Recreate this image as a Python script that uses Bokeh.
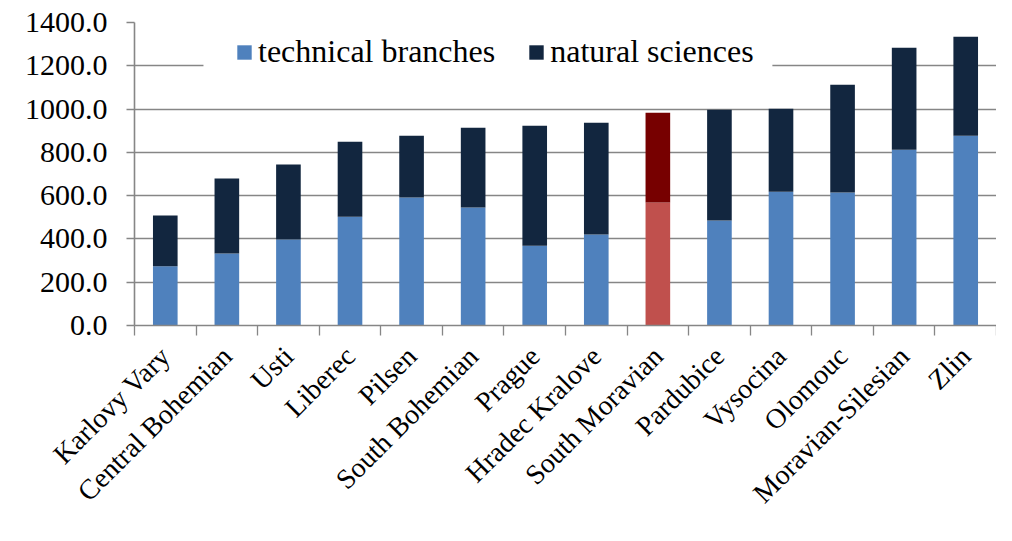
import math
from bokeh.plotting import figure
from bokeh.models import (Range1d, FixedTicker, Legend, LegendItem, ColumnDataSource,
                          NumeralTickFormatter, BoxAnnotation)
from bokeh.transform import stack
from bokeh.embed import file_html
from bokeh.resources import INLINE

regions = ["Karlovy Vary", "Central Bohemian", "Usti", "Liberec", "Pilsen",
           "South Bohemian", "Prague", "Hradec Kralove", "South Moravian",
           "Pardubice", "Vysocina", "Olomouc", "Moravian-Silesian", "Zlin"]
technical = [274, 333, 397, 503, 591, 545, 369, 420, 568, 485, 618, 614, 812, 877]
natural = [234, 346, 347, 346, 286, 369, 554, 517, 415, 512, 383, 498, 471, 457]
y_ticks = [0, 200, 400, 600, 800, 1000, 1200, 1400]
highlight = "South Moravian"

TECH_C, NAT_C = "#4F81BD", "#12263F"
TECH_H, NAT_H = "#C0504D", "#770000"
GRID_C = "#868686"
FONT = "Liberation Serif"

pos = [i + 0.5 for i in range(len(regions))]
src = ColumnDataSource(dict(
    x=pos, technical=technical, natural=natural,
    tc=[TECH_H if r == highlight else TECH_C for r in regions],
    nc=[NAT_H if r == highlight else NAT_C for r in regions],
))

p = figure(width=996, height=525, output_backend="svg", toolbar_location=None,
           x_range=Range1d(0, len(regions)), y_range=Range1d(0, 1400),
           min_border_left=134, min_border_right=0, min_border_top=22,
           min_border_bottom=200)
p.outline_line_color = None
p.background_fill_color = "white"
p.border_fill_color = "white"

r1 = p.vbar(x="x", width=0.4, bottom=0, top=stack("technical"), source=src,
            fill_color="tc", line_color=None)
r2 = p.vbar(x="x", width=0.4, bottom=stack("technical"),
            top=stack("technical", "natural"), source=src,
            fill_color="nc", line_color=None)

# white legend band hiding the gridline behind the legend
p.add_layout(BoxAnnotation(left=1.12, right=10.36, bottom=1130, top=1362,
                           fill_color="white", fill_alpha=1, line_color=None,
                           level="underlay"))

p.xgrid.visible = False
p.ygrid.ticker = FixedTicker(ticks=y_ticks)
p.ygrid.grid_line_color = GRID_C
p.ygrid.grid_line_width = 1.6

ya = p.yaxis[0]
ya.ticker = FixedTicker(ticks=y_ticks)
ya.formatter = NumeralTickFormatter(format="0.0")
ya.axis_line_color = GRID_C
ya.axis_line_width = 1.6
ya.major_tick_line_color = GRID_C
ya.major_tick_line_width = 1.6
ya.major_tick_out = 8
ya.major_tick_in = 0
ya.minor_tick_line_color = None
ya.major_label_text_font = FONT
ya.major_label_text_font_size = "30px"
ya.major_label_text_color = "black"
ya.major_label_standoff = 19

xa = p.xaxis[0]
xa.ticker = FixedTicker(ticks=pos, minor_ticks=list(range(len(regions) + 1)))
xa.major_label_overrides = {p_: r for p_, r in zip(pos, regions)}
xa.axis_line_color = GRID_C
xa.axis_line_width = 1.6
xa.major_tick_line_color = None
xa.major_tick_out = 0
xa.major_tick_in = 0
xa.minor_tick_line_color = GRID_C
xa.minor_tick_line_width = 1.3
xa.minor_tick_out = 10
xa.minor_tick_in = 0
xa.major_label_orientation = math.pi / 4
xa.major_label_text_font = FONT
xa.major_label_text_font_size = "28px"
xa.major_label_text_color = "black"
xa.major_label_standoff = 16

legend = Legend(items=[LegendItem(label="technical branches", renderers=[r1], index=0),
                       LegendItem(label="natural sciences", renderers=[r2], index=0)],
                location=(101, 255), orientation="horizontal",
                padding=0, margin=0, spacing=32, label_standoff=5,
                glyph_width=18, glyph_height=18,
                background_fill_alpha=0, border_line_color=None,
                label_text_font=FONT, label_text_font_size="32px",
                label_text_color="black")
p.add_layout(legend)

open("out.html", "w").write(file_html(p, INLINE))
